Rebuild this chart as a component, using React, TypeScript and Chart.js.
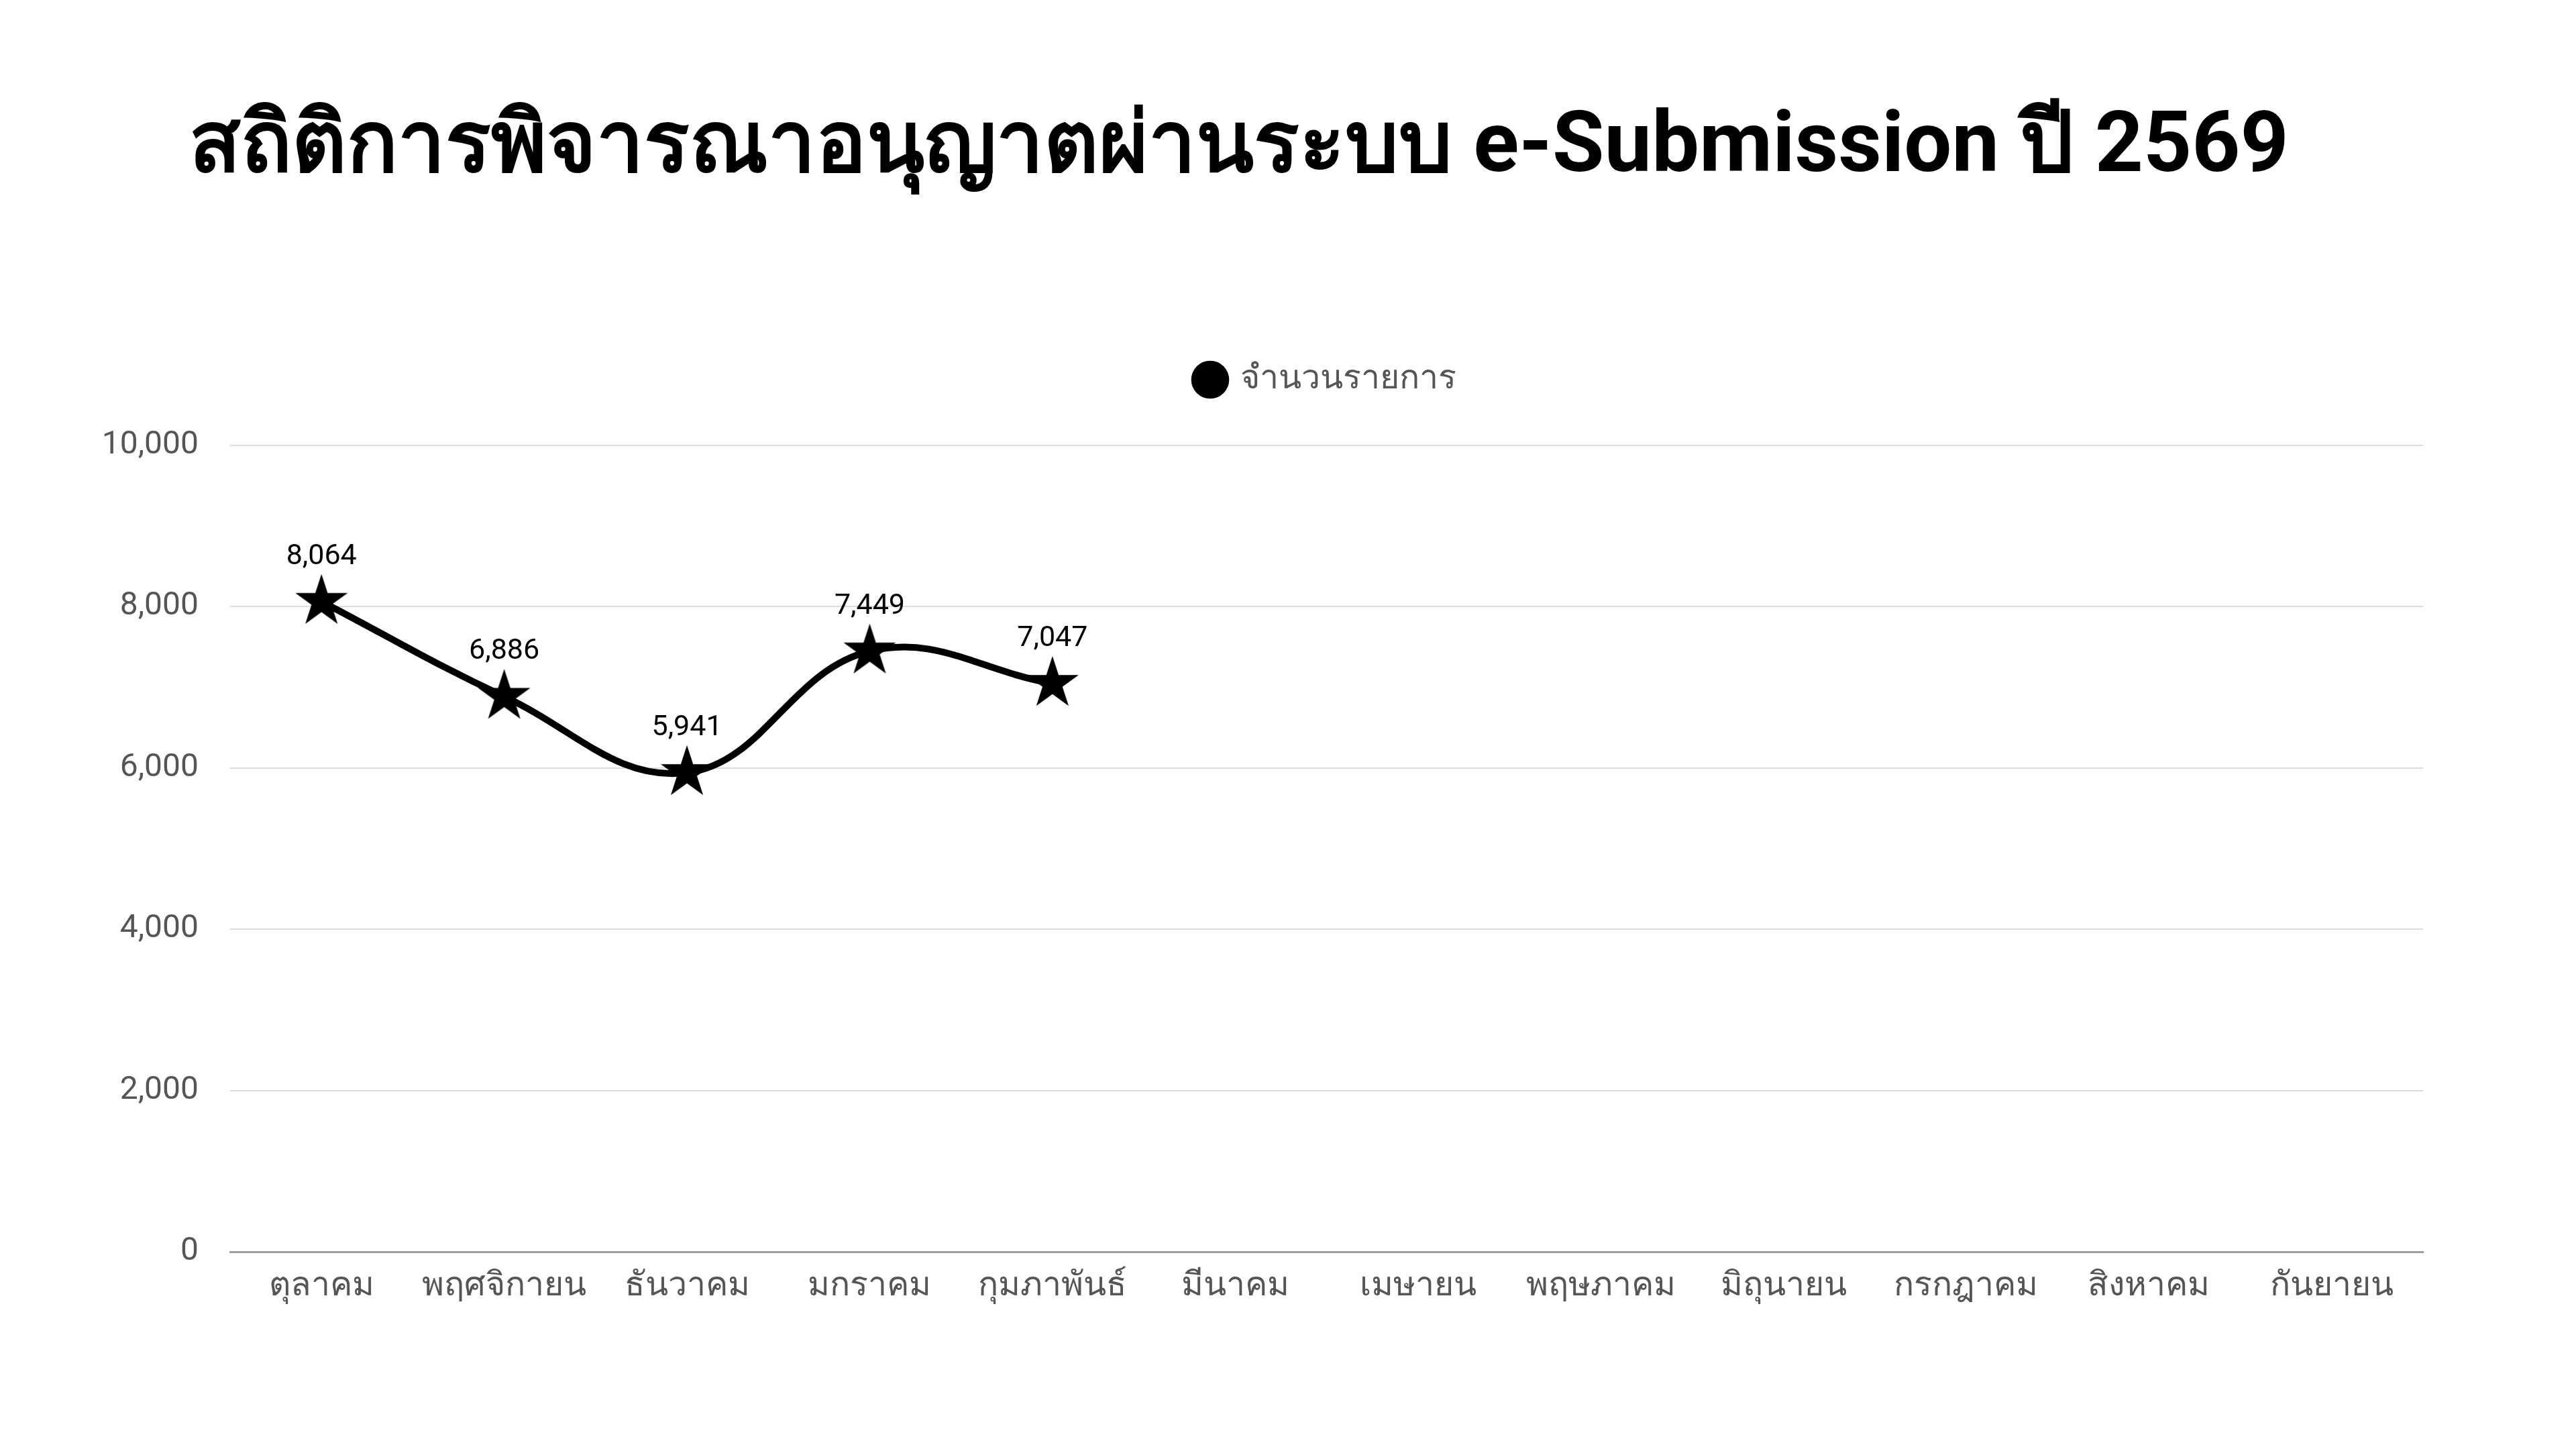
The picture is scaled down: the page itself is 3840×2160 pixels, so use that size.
import React, { useEffect, useRef } from "react";
import { Chart, registerables } from "chart.js";

Chart.register(...registerables);

const TITLE = "สถิติการพิจารณาอนุญาตผ่านระบบ e-Submission ปี 2569";
const SERIES_LABEL = "จำนวนรายการ";
const MONTHS = [
  "ตุลาคม",
  "พฤศจิกายน",
  "ธันวาคม",
  "มกราคม",
  "กุมภาพันธ์",
  "มีนาคม",
  "เมษายน",
  "พฤษภาคม",
  "มิถุนายน",
  "กรกฎาคม",
  "สิงหาคม",
  "กันยายน",
];
const VALUES: (number | null)[] = [8064, 6886, 5941, 7449, 7047, null, null, null, null, null, null, null];
const Y_MIN = 0;
const Y_MAX = 10000;
const Y_STEP = 2000;

const FONT = 'Roboto, "Noto Sans", "DejaVu Sans", sans-serif';

function makeStar(R: number): HTMLCanvasElement {
  const size = Math.ceil(R * 2) + 4;
  const c = document.createElement("canvas");
  c.width = size;
  c.height = size;
  const ctx = c.getContext("2d")!;
  const cx = size / 2;
  const cy = size / 2;
  const r = R * 0.382;
  ctx.beginPath();
  for (let i = 0; i < 10; i++) {
    const rad = i % 2 === 0 ? R : r;
    const a = -Math.PI / 2 + (i * Math.PI) / 5;
    ctx.lineTo(cx + rad * Math.cos(a), cy + rad * Math.sin(a));
  }
  ctx.closePath();
  ctx.fillStyle = "#000";
  ctx.fill();
  return c;
}

const titlePlugin = {
  id: "pageTitle",
  afterDraw(chart: any) {
    const ctx = chart.ctx;
    ctx.save();
    ctx.font = `bold 126px ${FONT}`;
    ctx.fillStyle = "#000";
    ctx.textAlign = "left";
    ctx.textBaseline = "alphabetic";
    ctx.fillText(TITLE, 282, 255);
    ctx.restore();
  },
};

const valueLabelPlugin = {
  id: "valueLabels",
  afterDatasetsDraw(chart: any) {
    const ctx = chart.ctx;
    const meta = chart.getDatasetMeta(0);
    const data = chart.data.datasets[0].data;
    ctx.save();
    ctx.font = `43px ${FONT}`;
    ctx.fillStyle = "#000";
    ctx.textAlign = "center";
    ctx.textBaseline = "alphabetic";
    meta.data.forEach((pt: any, i: number) => {
      const v = data[i];
      if (v === null || v === undefined) return;
      ctx.fillText(Number(v).toLocaleString("en-US"), pt.x, pt.y - 56);
    });
    ctx.restore();
  },
};

export default function App() {
  const ref = useRef<HTMLCanvasElement | null>(null);

  useEffect(() => {
    if (!ref.current) return;
    const star = makeStar(41);
    const chart = new Chart(ref.current, {
      type: "line",
      data: {
        labels: MONTHS,
        datasets: [
          {
            label: SERIES_LABEL,
            data: VALUES,
            borderColor: "#000",
            backgroundColor: "#000",
            borderWidth: 10,
            tension: 0.4,
            pointStyle: star as any,
            pointRadius: 41,
            spanGaps: false,
          },
        ],
      },
      options: {
        responsive: false,
        animation: false,
        layout: { padding: { top: 466, left: 150, right: 228, bottom: 174 } },
        plugins: {
          title: { display: false },
          subtitle: {
            display: true,
            text: " ",
            weight: 500,
            color: "rgba(0,0,0,0)",
            font: { size: 20, lineHeight: 1.2 },
            padding: { top: 20, bottom: 19 },
          } as any,
          tooltip: { enabled: false },
          legend: {
            display: true,
            position: "top",
            fullSize: false,
            labels: {
              usePointStyle: true,
              pointStyle: "circle",
              boxWidth: 40,
              boxHeight: 40,
              padding: 75,
              color: "#555",
              font: { family: FONT, size: 50 },
              generateLabels: () => [
                {
                  text: SERIES_LABEL,
                  fillStyle: "#000",
                  strokeStyle: "#000",
                  lineWidth: 0,
                  pointStyle: "circle",
                  hidden: false,
                  datasetIndex: 0,
                  fontColor: "#555",
                },
              ],
            },
          },
        },
        scales: {
          x: {
            offset: true,
            grid: { display: false, drawTicks: false },
            border: { display: true, color: "#9e9e9e", width: 3 },
            ticks: {
              color: "#555",
              font: { family: FONT, size: 50 },
              padding: 22,
              maxRotation: 0,
              autoSkip: false,
            },
            afterFit: (s: any) => {
              s.height = 120;
            },
          },
          y: {
            min: Y_MIN,
            max: Y_MAX,
            grid: { color: "#dcdcdc", lineWidth: 2, drawTicks: false },
            border: { display: false },
            ticks: {
              stepSize: Y_STEP,
              color: "#555",
              font: { family: FONT, size: 48 },
              padding: 47,
              callback: (v: any) => Number(v).toLocaleString("en-US"),
            },
            afterFit: (s: any) => {
              s.width = 193;
            },
          },
        },
      },
      plugins: [titlePlugin, valueLabelPlugin],
    });
    return () => chart.destroy();
  }, []);

  return (
    <div style={{ position: "absolute", left: 0, top: 0, width: 3840, height: 2160, background: "#fff" }}>
      <canvas ref={ref} width={3840} height={2160} style={{ width: 3840, height: 2160 }} />
    </div>
  );
}
